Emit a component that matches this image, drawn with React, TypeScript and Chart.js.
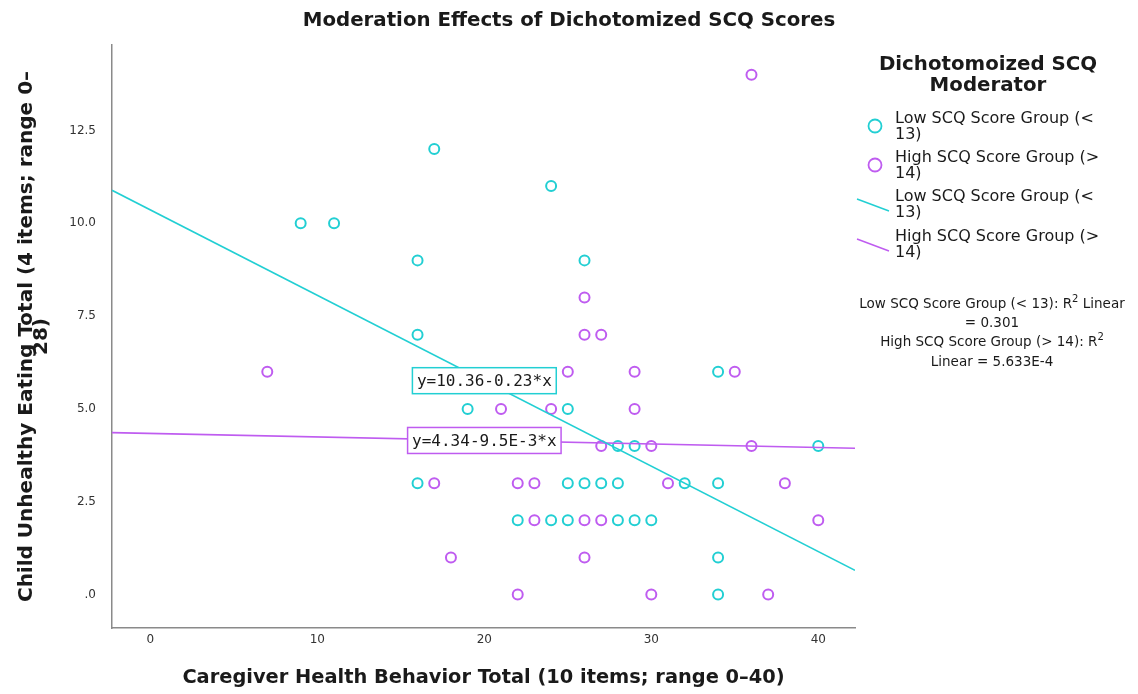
import React, { useEffect, useRef } from "react";
import { Chart, registerables } from "chart.js";
Chart.register(...registerables);

// ---- data ----
const lowX = [17, 9, 11, 24, 16, 26, 16, 34, 19, 25, 28, 29, 40, 16, 25, 26, 27, 28, 32, 34, 22, 24, 25, 28, 29, 30, 34, 34];
const lowY = [12, 10, 10, 11, 9, 9, 7, 6, 5, 5, 4, 4, 4, 3, 3, 3, 3, 3, 3, 3, 2, 2, 2, 2, 2, 2, 1, 0];
const highX = [36, 26, 26, 27, 7, 25, 29, 35, 21, 24, 29, 27, 30, 36, 17, 22, 23, 31, 38, 23, 26, 27, 40, 18, 26, 22, 30, 37];
const highY = [14, 8, 7, 7, 6, 6, 6, 6, 5, 5, 5, 4, 4, 4, 3, 3, 3, 3, 3, 2, 2, 2, 2, 1, 1, 0, 0, 0];
const groupNames = ["Low SCQ Score Group (< 13)", "High SCQ Score Group (> 14)"];
const fitIntercepts = [10.36, 4.34];
const fitSlopes = [-0.23, -0.0095];
const fitLabels = ["y=10.36-0.23*x", "y=4.34-9.5E-3*x"];
const fitLabelAt = 20;
const xTicks = [0, 10, 20, 30, 40];
const yTicks = [0, 2.5, 5, 7.5, 10, 12.5];
const yTickLabels = [".0", "2.5", "5.0", "7.5", "10.0", "12.5"];
const xRange = [-2.3, 42.2];
const yRange = [-0.9, 14.8];
const chartTitle = "Moderation Effects of Dichotomized SCQ Scores";
const xTitle = "Caregiver Health Behavior Total (10 items; range 0–40)";
const yTitleLines = ["Child Unhealthy Eating Total (4 items; range 0–", "28)"];
const legendTitleLines = ["Dichotomoized SCQ", "Moderator"];
const r2Lines = [
  ["Low SCQ Score Group (< 13): R", "2", " Linear"],
  ["= 0.301"],
  ["High SCQ Score Group (> 14): R", "2"],
  ["Linear = 5.633E-4"],
];

// ---- styles ----
const CYAN = "#22cfd3";
const PURPLE = "#bf5cf0";
const COLORS = [CYAN, PURPLE];
const SANS = "'DejaVu Sans', Verdana, sans-serif";
const MONO = "'DejaVu Sans Mono', monospace";
const TEXT = "#1a1a1a";

function wrap(ctx: CanvasRenderingContext2D, text: string, maxW: number): string[] {
  const words = text.split(" ");
  const lines: string[] = [];
  let cur = "";
  for (const w of words) {
    const t = cur ? cur + " " + w : w;
    if (ctx.measureText(t).width > maxW && cur) {
      lines.push(cur);
      cur = w;
    } else cur = t;
  }
  if (cur) lines.push(cur);
  return lines;
}

const decorPlugin = {
  id: "decor",
  afterDatasetsDraw(chart: any) {
    const ctx: CanvasRenderingContext2D = chart.ctx;
    const xs = chart.scales.x;
    const ys = chart.scales.y;
    ctx.save();
    ctx.font = `16px ${MONO}`;
    ctx.textBaseline = "middle";
    ctx.textAlign = "center";
    fitLabels.forEach((lab, i) => {
      const cx = xs.getPixelForValue(fitLabelAt);
      const cy = ys.getPixelForValue(fitIntercepts[i] + fitSlopes[i] * fitLabelAt);
      const w = ctx.measureText(lab).width + 9;
      const h = 26;
      ctx.fillStyle = "#fff";
      ctx.fillRect(cx - w / 2, cy - h / 2, w, h);
      ctx.strokeStyle = COLORS[i];
      ctx.lineWidth = 1.5;
      ctx.strokeRect(cx - w / 2, cy - h / 2, w, h);
      ctx.fillStyle = TEXT;
      ctx.fillText(lab, cx, cy + 1);
    });
    ctx.restore();
  },
  afterDraw(chart: any) {
    const ctx: CanvasRenderingContext2D = chart.ctx;
    const area = chart.chartArea;
    ctx.save();
    ctx.fillStyle = TEXT;
    ctx.textBaseline = "middle";
    ctx.textAlign = "center";
    // title
    ctx.font = `bold 19.8px ${SANS}`;
    ctx.fillText(chartTitle, chart.width / 2, 21);
    // x title
    ctx.font = `bold 19.4px ${SANS}`;
    ctx.fillText(xTitle, (area.left + area.right) / 2, 678);
    // y title
    ctx.save();
    ctx.translate(0, (area.top + area.bottom) / 2);
    ctx.rotate(-Math.PI / 2);
    ctx.font = `bold 20px ${SANS}`;
    ctx.fillText(yTitleLines[0], 0, 27);
    ctx.fillText(yTitleLines[1], 0, 42);
    ctx.restore();
    // legend title
    const lx = 988;
    ctx.font = `bold 19.8px ${SANS}`;
    ctx.fillText(legendTitleLines[0], lx, 65);
    ctx.fillText(legendTitleLines[1], lx, 86);
    // legend items
    ctx.font = `16px ${SANS}`;
    ctx.textAlign = "left";
    const rows = [119, 158, 197, 237];
    const items = [
      { kind: "pt", i: 0 },
      { kind: "pt", i: 1 },
      { kind: "ln", i: 0 },
      { kind: "ln", i: 1 },
    ];
    items.forEach((it, k) => {
      const y0 = rows[k];
      const lines = wrap(ctx, groupNames[it.i], 222);
      lines.forEach((l, j) => ctx.fillText(l, 895, y0 + j * 16));
      ctx.strokeStyle = COLORS[it.i];
      if (it.kind === "pt") {
        ctx.lineWidth = 1.8;
        ctx.beginPath();
        ctx.arc(875, y0 + 7, 6.5, 0, Math.PI * 2);
        ctx.stroke();
      } else {
        ctx.lineWidth = 1.5;
        ctx.beginPath();
        ctx.moveTo(857, y0 + 2);
        ctx.lineTo(889, y0 + 14);
        ctx.stroke();
      }
    });
    // R^2 text
    const rowsR = [304, 323, 342, 362];
    const cxR = 992;
    ctx.textAlign = "left";
    r2Lines.forEach((parts, j) => {
      const y = rowsR[j];
      const fontOf = (q: number) => (q === 1 ? `10px ${SANS}` : `13.5px ${SANS}`);
      const widths = parts.map((p, q) => {
        ctx.font = fontOf(q);
        return ctx.measureText(p).width;
      });
      const total = widths.reduce((a, b) => a + b, 0);
      let x = cxR - total / 2;
      parts.forEach((p, q) => {
        ctx.font = fontOf(q);
        ctx.fillText(p, x, q === 1 ? y - 5 : y);
        x += widths[q];
      });
    });
    ctx.restore();
  },
};

export default function App() {
  const ref = useRef<HTMLCanvasElement>(null);
  useEffect(() => {
    if (!ref.current) return;
    const fitData = (i: number) =>
      xRange.map((x) => ({ x, y: fitIntercepts[i] + fitSlopes[i] * x }));
    const chart = new Chart(ref.current, {
      type: "scatter",
      data: {
        datasets: [
          {
            type: "line",
            label: groupNames[0] + " fit",
            data: fitData(0),
            borderColor: CYAN,
            borderWidth: 1.6,
            pointRadius: 0,
            fill: false,
            order: 1,
          } as any,
          {
            type: "line",
            label: groupNames[1] + " fit",
            data: fitData(1),
            borderColor: PURPLE,
            borderWidth: 1.6,
            pointRadius: 0,
            fill: false,
            order: 1,
          } as any,
          {
            label: groupNames[0],
            data: lowX.map((x, i) => ({ x, y: lowY[i] })),
            borderColor: CYAN,
            backgroundColor: "rgba(0,0,0,0)",
            pointRadius: 5,
            borderWidth: 2,
            order: 2,
          },
          {
            label: groupNames[1],
            data: highX.map((x, i) => ({ x, y: highY[i] })),
            borderColor: PURPLE,
            backgroundColor: "rgba(0,0,0,0)",
            pointRadius: 5,
            borderWidth: 2,
            order: 2,
          },
        ],
      },
      options: {
        animation: false,
        responsive: true,
        maintainAspectRatio: false,
        layout: { padding: { top: 45, right: 283, left: 0, bottom: 0 } },
        plugins: { legend: { display: false }, tooltip: { enabled: false }, title: { display: false } },
        scales: {
          x: {
            type: "linear",
            min: xRange[0],
            max: xRange[1],
            grid: { display: false, drawTicks: false },
            border: { display: true, color: "#8a8a8a", width: 1.5 },
            afterBuildTicks: (s: any) => {
              s.ticks = xTicks.map((v) => ({ value: v }));
            },
            afterFit: (s: any) => {
              s.height = 66;
            },
            ticks: { color: "#333", font: { family: SANS, size: 12 }, padding: 5, maxRotation: 0, autoSkip: false },
          },
          y: {
            type: "linear",
            min: yRange[0],
            max: yRange[1],
            grid: { display: false, drawTicks: false },
            border: { display: true, color: "#8a8a8a", width: 1.5 },
            afterBuildTicks: (s: any) => {
              s.ticks = yTicks.map((v) => ({ value: v }));
            },
            afterFit: (s: any) => {
              s.width = 112;
            },
            ticks: {
              color: "#333",
              font: { family: SANS, size: 12 },
              padding: 16,
              autoSkip: false,
              callback: (v: any) => {
                const k = yTicks.indexOf(Number(v));
                return k >= 0 ? yTickLabels[k] : "";
              },
            },
          },
        },
      },
      plugins: [decorPlugin],
    });
    return () => chart.destroy();
  }, []);
  return (
    <div style={{ position: "fixed", left: 0, top: 0, width: 1138, height: 694, background: "#fff" }}>
      <canvas ref={ref} />
    </div>
  );
}
